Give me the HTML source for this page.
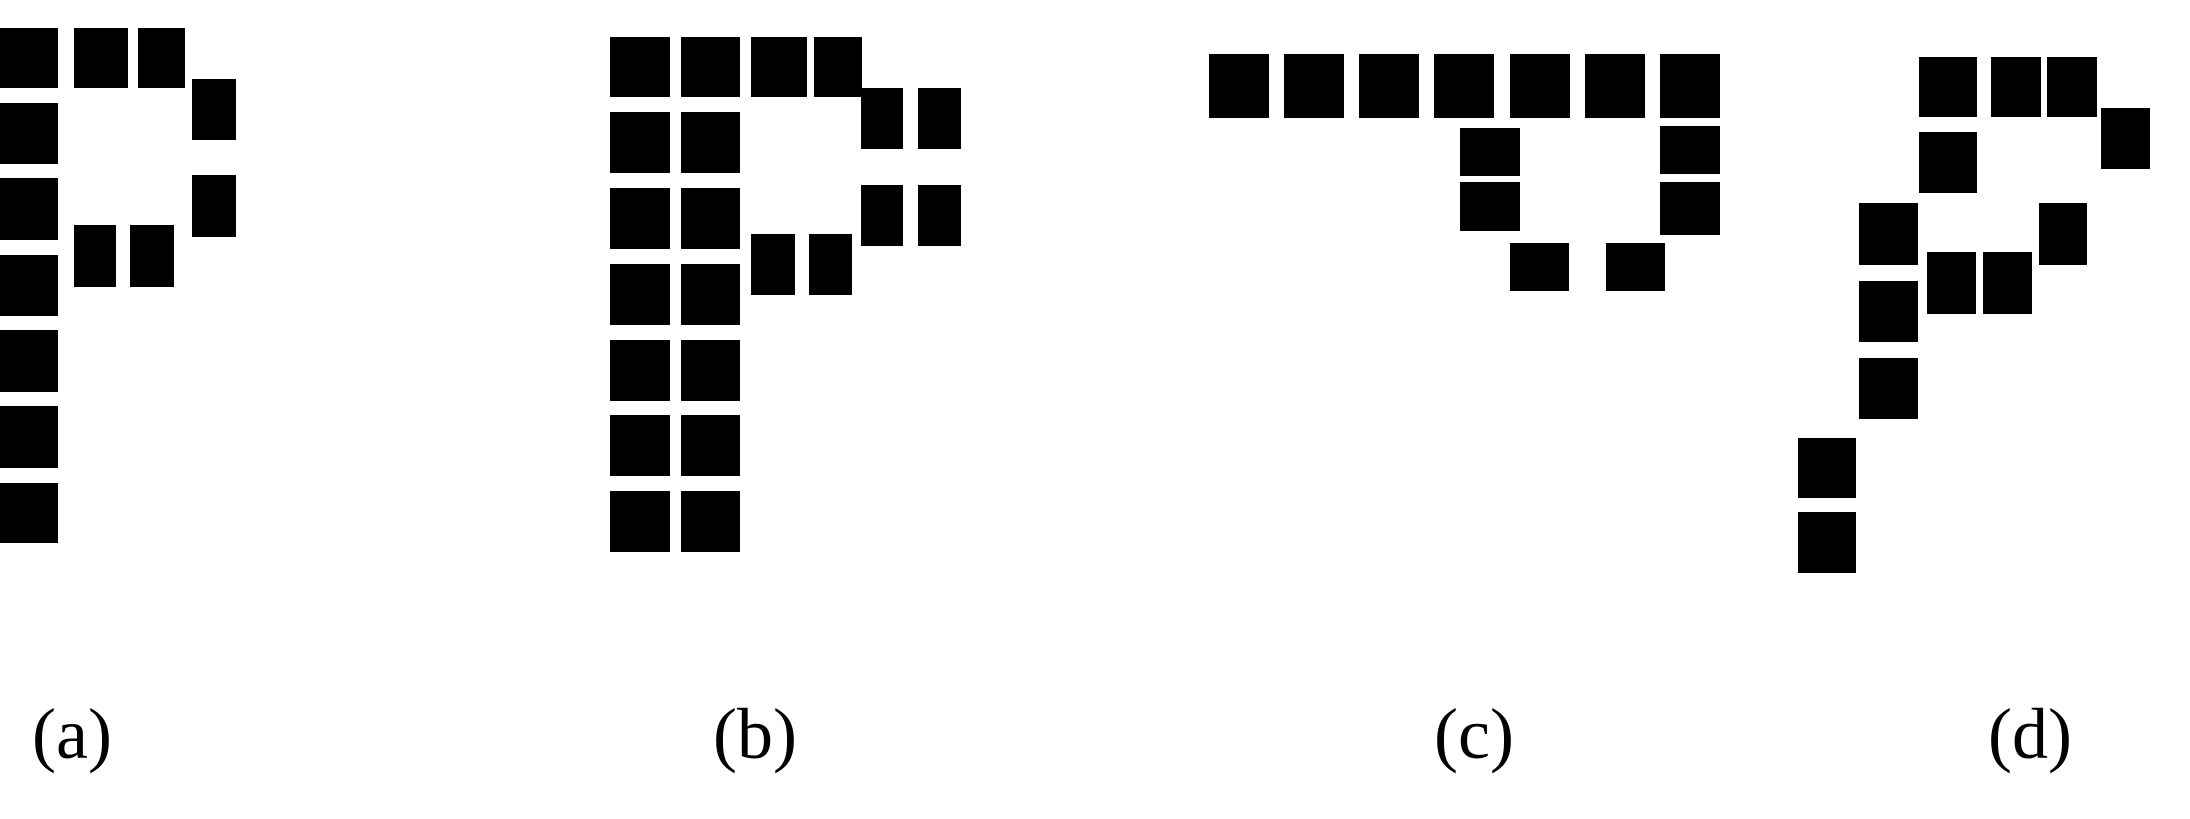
<!DOCTYPE html>
<html><head><meta charset="utf-8"><style>
html,body{margin:0;padding:0;background:#fff;width:2190px;height:819px;overflow:hidden}
svg{display:block}
text{font-family:"Liberation Serif",serif;font-size:72px;fill:#000}
</style></head><body>
<svg width="2190" height="819" viewBox="0 0 2190 819">
<g id="cells" fill="#000"></g>
<g>
<text x="72" y="758" text-anchor="middle">(a)</text>
<text x="755" y="758" text-anchor="middle">(b)</text>
<text x="1474" y="758" text-anchor="middle">(c)</text>
<text x="2030" y="758" text-anchor="middle">(d)</text>
</g>
</svg>
<script>
// cells: [x0, y0, x1, y1]
const cellsA = [[0,28,58,88],[0,103,58,164],[0,178,58,240],[0,255,58,316],[0,330,58,392],[0,406,58,468],[0,483,58,543],
 [74,28,128,88],[138,28,185,88],[192,79,236,140],[192,175,236,237],[74,225,116,287],[130,225,174,287]];
const cellsB = [[610,37,670,97],[681,37,740,97],[751,37,807,97],[814,37,862,97],
 [610,112,670,173],[681,112,740,173],[610,188,670,249],[681,188,740,249],[610,264,670,325],[681,264,740,325],
 [610,340,670,401],[681,340,740,401],[610,415,670,476],[681,415,740,476],[610,491,670,552],[681,491,740,552],
 [861,88,903,149],[918,88,961,149],[861,185,903,246],[918,185,961,246],[751,234,795,295],[809,234,852,295]];
const cellsC = [[1209,54,1269,118],[1284,54,1344,118],[1359,54,1419,118],[1434,54,1494,118],[1510,54,1570,118],[1585,54,1645,118],[1660,54,1720,118],
 [1460,128,1520,176],[1660,126,1720,174],[1460,182,1520,231],[1660,182,1720,235],[1510,243,1569,291],[1606,243,1665,291]];
const cellsD = [[1919,57,1977,117],[1991,57,2041,117],[2047,57,2097,117],[2101,108,2150,169],
 [1919,132,1977,193],[1859,203,1918,265],[1859,281,1918,342],[1859,358,1918,419],
 [1927,252,1976,314],[1983,252,2032,314],[2039,203,2087,265],[1798,438,1856,498],[1798,512,1856,573]];
const g = document.getElementById('cells');
const NS = 'http://www.w3.org/2000/svg';
function draw(list, panel){
  list.forEach((c,i)=>{
    const r = document.createElementNS(NS,'rect');
    r.setAttribute('x',c[0]); r.setAttribute('y',c[1]);
    r.setAttribute('width',c[2]-c[0]); r.setAttribute('height',c[3]-c[1]);
    
    
    g.appendChild(r);
  });
}
draw(cellsA,'a'); draw(cellsB,'b'); draw(cellsC,'c'); draw(cellsD,'d');
</script>
</body></html>
